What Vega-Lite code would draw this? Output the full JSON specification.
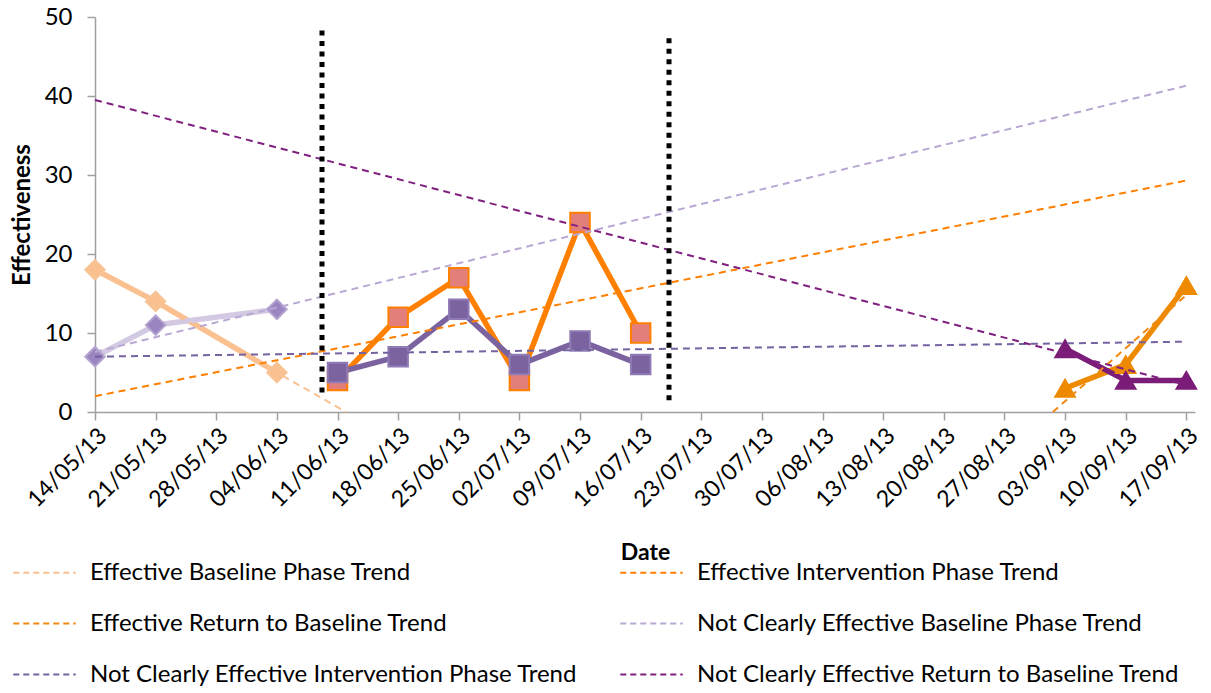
{
  "$schema": "https://vega.github.io/schema/vega-lite/v6.json",
  "width": 1100,
  "height": 395,
  "autosize": {"type": "none"},
  "padding": {"left": 95, "top": 17, "right": 16, "bottom": 281},
  "background": "white",
  "config": {
    "view": {"stroke": null},
    "font": "Lato",
    "axis": {
      "grid": false,
      "domainColor": "#a0a0a0",
      "tickColor": "#a0a0a0",
      "domainWidth": 1.5,
      "tickWidth": 1.5,
      "tickSize": 8,
      "labelColor": "black",
      "titleColor": "black",
      "labelFont": "Lato",
      "titleFont": "Lato"
    }
  },
  "datasets": {
    "series": [
      {"series": "Effective Baseline", "date": "2013-05-14", "value": 18},
      {"series": "Effective Baseline", "date": "2013-05-21", "value": 14},
      {"series": "Effective Baseline", "date": "2013-06-04", "value": 5},
      {"series": "Not Clearly Effective Baseline", "date": "2013-05-14", "value": 7},
      {"series": "Not Clearly Effective Baseline", "date": "2013-05-21", "value": 11},
      {"series": "Not Clearly Effective Baseline", "date": "2013-06-04", "value": 13},
      {"series": "Effective Intervention", "date": "2013-06-11", "value": 4},
      {"series": "Effective Intervention", "date": "2013-06-18", "value": 12},
      {"series": "Effective Intervention", "date": "2013-06-25", "value": 17},
      {"series": "Effective Intervention", "date": "2013-07-02", "value": 4},
      {"series": "Effective Intervention", "date": "2013-07-09", "value": 24},
      {"series": "Effective Intervention", "date": "2013-07-16", "value": 10},
      {"series": "Not Clearly Effective Intervention", "date": "2013-06-11", "value": 5},
      {"series": "Not Clearly Effective Intervention", "date": "2013-06-18", "value": 7},
      {"series": "Not Clearly Effective Intervention", "date": "2013-06-25", "value": 13},
      {"series": "Not Clearly Effective Intervention", "date": "2013-07-02", "value": 6},
      {"series": "Not Clearly Effective Intervention", "date": "2013-07-09", "value": 9},
      {"series": "Not Clearly Effective Intervention", "date": "2013-07-16", "value": 6},
      {"series": "Effective Return", "date": "2013-09-03", "value": 3},
      {"series": "Effective Return", "date": "2013-09-10", "value": 6},
      {"series": "Effective Return", "date": "2013-09-17", "value": 16},
      {"series": "Not Clearly Effective Return", "date": "2013-09-03", "value": 8},
      {"series": "Not Clearly Effective Return", "date": "2013-09-10", "value": 4},
      {"series": "Not Clearly Effective Return", "date": "2013-09-17", "value": 4}
    ],
    "trends": [
      {"trend": "Effective Baseline Phase Trend", "date": "2013-05-14", "value": 18.1},
      {"trend": "Effective Baseline Phase Trend", "date": "2013-06-12", "value": 0},
      {"trend": "Effective Intervention Phase Trend", "date": "2013-05-14", "value": 2.0},
      {"trend": "Effective Intervention Phase Trend", "date": "2013-09-17", "value": 29.3},
      {"trend": "Effective Return to Baseline Trend", "date": "2013-09-01T14:00:00Z", "value": 0},
      {"trend": "Effective Return to Baseline Trend", "date": "2013-09-17", "value": 14.8},
      {"trend": "Not Clearly Effective Baseline Phase Trend", "date": "2013-05-14", "value": 7.6},
      {"trend": "Not Clearly Effective Baseline Phase Trend", "date": "2013-09-17", "value": 41.3},
      {"trend": "Not Clearly Effective Intervention Phase Trend", "date": "2013-05-14", "value": 7.0},
      {"trend": "Not Clearly Effective Intervention Phase Trend", "date": "2013-09-17", "value": 8.9},
      {"trend": "Not Clearly Effective Return to Baseline Trend", "date": "2013-05-14", "value": 39.5},
      {"trend": "Not Clearly Effective Return to Baseline Trend", "date": "2013-09-17", "value": 3.4}
    ],
    "phases": [
      {"date": "2013-06-09T05:00:00Z", "value": 48.3, "value2": 1.9},
      {"date": "2013-07-19T06:30:00Z", "value": 47.3, "value2": 1.1}
    ]
  },
  "encoding": {
    "x": {
      "field": "date",
      "type": "temporal",
      "scale": {
        "type": "utc",
        "domain": [
          {"year": 2013, "month": 5, "date": 14, "utc": true},
          {"year": 2013, "month": 9, "date": 18, "utc": true}
        ]
      },
      "axis": {
        "title": "Date",
        "titleFontSize": 23,
        "titleFontWeight": "bold",
        "titlePadding": 30,
        "labelFontSize": 23,
        "labelAngle": -45,
        "labelPadding": 4,
        "format": "%d/%m/%y",
        "labelOverlap": false,
        "values": [
          {"year": 2013, "month": 5, "date": 14, "utc": true},
          {"year": 2013, "month": 5, "date": 21, "utc": true},
          {"year": 2013, "month": 5, "date": 28, "utc": true},
          {"year": 2013, "month": 6, "date": 4, "utc": true},
          {"year": 2013, "month": 6, "date": 11, "utc": true},
          {"year": 2013, "month": 6, "date": 18, "utc": true},
          {"year": 2013, "month": 6, "date": 25, "utc": true},
          {"year": 2013, "month": 7, "date": 2, "utc": true},
          {"year": 2013, "month": 7, "date": 9, "utc": true},
          {"year": 2013, "month": 7, "date": 16, "utc": true},
          {"year": 2013, "month": 7, "date": 23, "utc": true},
          {"year": 2013, "month": 7, "date": 30, "utc": true},
          {"year": 2013, "month": 8, "date": 6, "utc": true},
          {"year": 2013, "month": 8, "date": 13, "utc": true},
          {"year": 2013, "month": 8, "date": 20, "utc": true},
          {"year": 2013, "month": 8, "date": 27, "utc": true},
          {"year": 2013, "month": 9, "date": 3, "utc": true},
          {"year": 2013, "month": 9, "date": 10, "utc": true},
          {"year": 2013, "month": 9, "date": 17, "utc": true}
        ]
      }
    },
    "y": {
      "field": "value",
      "type": "quantitative",
      "scale": {"domain": [0, 50], "nice": false},
      "axis": {
        "title": "Effectiveness",
        "titleFontSize": 24,
        "titleFontWeight": "bold",
        "titlePadding": 10,
        "labelFontSize": 24,
        "labelPadding": 15,
        "values": [0, 10, 20, 30, 40, 50]
      }
    }
  },
  "layer": [
    {
      "data": {"name": "series"},
      "mark": {"type": "line", "strokeWidth": 5.5, "strokeJoin": "round"},
      "encoding": {
        "stroke": {
          "field": "series",
          "type": "nominal",
          "scale": {
            "domain": ["Effective Baseline", "Not Clearly Effective Baseline", "Effective Intervention", "Not Clearly Effective Intervention", "Effective Return", "Not Clearly Effective Return"],
            "range": ["#FAC090", "#D3C9E2", "#FF7F00", "#7B63A0", "#EE8A00", "#7B1C79"]
          },
          "legend": null
        }
      }
    },
    {
      "data": {"name": "series"},
      "mark": {"type": "point", "filled": true, "opacity": 1, "strokeWidth": 2},
      "encoding": {
        "shape": {
          "field": "series",
          "type": "nominal",
          "scale": {
            "domain": ["Effective Baseline", "Not Clearly Effective Baseline", "Effective Intervention", "Not Clearly Effective Intervention", "Effective Return", "Not Clearly Effective Return"],
            "range": ["diamond", "diamond", "square", "square", "triangle-up", "triangle-up"]
          },
          "legend": null
        },
        "fill": {
          "field": "series",
          "type": "nominal",
          "scale": {
            "domain": ["Effective Baseline", "Not Clearly Effective Baseline", "Effective Intervention", "Not Clearly Effective Intervention", "Effective Return", "Not Clearly Effective Return"],
            "range": ["#FAC090", "#9A85C0", "#E37F7B", "#7B63A0", "#EE8A00", "#7B1C79"]
          },
          "legend": null
        },
        "stroke": {
          "field": "series",
          "type": "nominal",
          "scale": {
            "domain": ["Effective Baseline", "Not Clearly Effective Baseline", "Effective Intervention", "Not Clearly Effective Intervention", "Effective Return", "Not Clearly Effective Return"],
            "range": ["#F7C496", "#B3A2CF", "#FF7F00", "#8F7BB5", "#EE8A00", "#7B1C79"]
          },
          "legend": null
        },
        "size": {
          "field": "series",
          "type": "nominal",
          "scale": {
            "domain": ["Effective Baseline", "Not Clearly Effective Baseline", "Effective Intervention", "Not Clearly Effective Intervention", "Effective Return", "Not Clearly Effective Return"],
            "range": [380, 380, 400, 400, 520, 520]
          },
          "legend": null
        }
      }
    },
    {
      "data": {"name": "trends"},
      "mark": {"type": "line", "strokeDash": [7, 5], "strokeWidth": 2},
      "encoding": {
        "color": {
          "field": "trend",
          "type": "nominal",
          "scale": {
            "domain": ["Effective Baseline Phase Trend", "Effective Return to Baseline Trend", "Not Clearly Effective Intervention Phase Trend", "Effective Intervention Phase Trend", "Not Clearly Effective Baseline Phase Trend", "Not Clearly Effective Return to Baseline Trend"],
            "range": ["#FAC090", "#F08A10", "#7562A0", "#FF7F00", "#B9A8D4", "#7F1F7F"]
          },
          "legend": {
            "orient": "none",
            "legendX": -83,
            "legendY": 523,
            "columns": 2,
            "title": null,
            "symbolType": "stroke",
            "symbolSize": 3900,
            "symbolStrokeWidth": 2,
            "symbolDash": [6, 4],
            "labelFontSize": 24,
            "labelFont": "Lato",
            "labelColor": "black",
            "labelLimit": 800,
            "labelOffset": 13,
            "rowPadding": 6,
            "columnPadding": 38,
            "padding": 0
          }
        }
      }
    },
    {
      "data": {"name": "phases"},
      "mark": {"type": "rule", "color": "black", "strokeWidth": 5, "strokeDash": [5, 5.5], "strokeCap": "butt"},
      "encoding": {
        "y2": {"field": "value2"}
      }
    }
  ],
  "resolve": {
    "scale": {"stroke": "independent", "fill": "independent", "shape": "independent", "size": "independent"}
  }
}
